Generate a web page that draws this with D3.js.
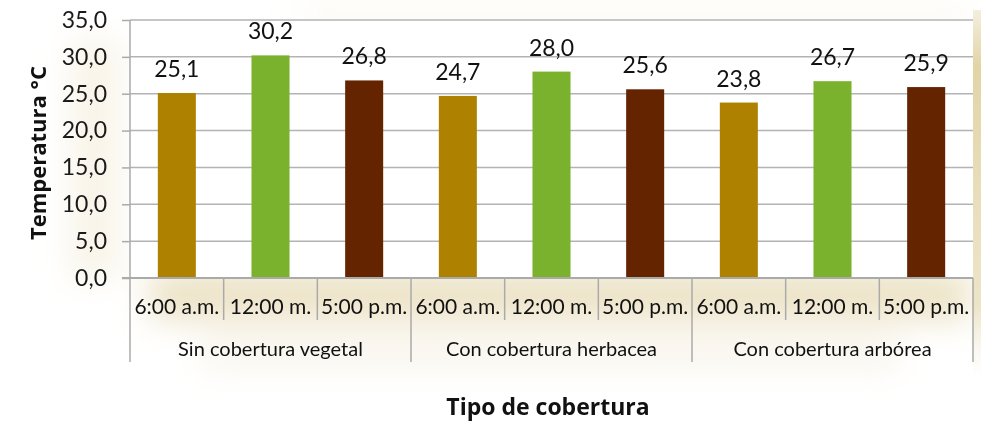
<!DOCTYPE html>
<html>
<head>
<meta charset="utf-8">
<script src="https://cdn.jsdelivr.net/npm/d3@7"></script>
<style>
  body { margin: 0; background: #fff; }
  svg { display: block; font-family: Lato, "Open Sans", sans-serif; }
</style>
</head>
<body>
<svg id="chart" width="981" height="423"></svg>
<script>
// data
var groups = ["Sin cobertura vegetal", "Con cobertura herbacea", "Con cobertura arbórea"];
var times = ["6:00 a.m.", "12:00 m.", "5:00 p.m."];
var values = [25.1, 30.2, 26.8, 24.7, 28.0, 25.6, 23.8, 26.7, 25.9];
var yTicks = [0, 5, 10, 15, 20, 25, 30, 35];
var colors = ["#ae8200", "#7ab22d", "#642400"];

var svg = d3.select("#chart");
var plotL = 130, plotR = 973, plotT = 20, plotB = 278;

// build rows
var rows = [];
groups.forEach(function(g, gi) {
  times.forEach(function(t, ti) {
    rows.push({ key: gi + "-" + ti, group: g, time: t, ti: ti, value: values[gi * 3 + ti] });
  });
});

var x = d3.scaleBand().domain(rows.map(function(d){ return d.key; }))
  .range([plotL, plotR]).paddingInner(0.594).paddingOuter(0.297);
var step = x.step();
var y = d3.scaleLinear().domain([0, 35]).range([plotB, plotT]);

// soft beige glow behind the chart
var defs = svg.append("defs");
defs.append("filter").attr("id", "glow").attr("x", "-20%").attr("y", "-20%").attr("width", "140%").attr("height", "140%")
  .append("feGaussianBlur").attr("stdDeviation", 16);
var lg = defs.append("linearGradient").attr("id", "rstrip").attr("x1", 0).attr("y1", 0).attr("x2", 0).attr("y2", 1);
lg.append("stop").attr("offset", "0%").attr("stop-color", "#e4d7ac").attr("stop-opacity", 0.4);
lg.append("stop").attr("offset", "15%").attr("stop-color", "#e2d4a6").attr("stop-opacity", 1);
lg.append("stop").attr("offset", "80%").attr("stop-color", "#e9dfbd").attr("stop-opacity", 0.8);
lg.append("stop").attr("offset", "100%").attr("stop-color", "#f5f0e0").attr("stop-opacity", 0);

var glow = svg.append("g").attr("filter", "url(#glow)");
glow.append("rect").attr("x", 150).attr("y", 270).attr("width", 820).attr("height", 50)
  .attr("fill", "#e6dab4").attr("opacity", 0.75);
glow.append("rect").attr("x", 70).attr("y", 40).attr("width", 50).attr("height", 240)
  .attr("fill", "#f3edd9").attr("opacity", 0.6);
glow.append("rect").attr("x", 200).attr("y", 330).attr("width", 700).attr("height", 40)
  .attr("fill", "#f5f0e2").attr("opacity", 0.6);
glow.append("rect").attr("x", 300).attr("y", 6).attr("width", 670).attr("height", 20)
  .attr("fill", "#f7f3e8").attr("opacity", 0.5);
svg.append("rect").attr("x", plotR).attr("y", plotT - 10).attr("width", 981 - plotR).attr("height", 370)
  .attr("fill", "url(#rstrip)");

// white plot area
svg.append("rect").attr("x", plotL).attr("y", plotT - 1).attr("width", plotR - plotL).attr("height", plotB - plotT + 1)
  .attr("fill", "#fff");

// gridlines
svg.append("g").selectAll("line").data(yTicks.filter(function(d){ return d > 0; })).join("line")
  .attr("x1", plotL).attr("x2", plotR)
  .attr("y1", function(d){ return y(d); }).attr("y2", function(d){ return y(d); })
  .attr("stroke", "#b3b3b3").attr("stroke-width", 1.5);

// y axis
var yAxis = svg.append("g").attr("transform", "translate(" + plotL + ",0)")
  .call(d3.axisLeft(y).tickValues(yTicks).tickSize(8).tickPadding(15)
    .tickFormat(function(d){ return d3.format(".1f")(d).replace(".", ","); }));
yAxis.select(".domain").attr("stroke", "#aaaaaa").attr("stroke-width", 1.5).attr("d", "M0," + plotT + "V" + plotB);
yAxis.selectAll(".tick line").attr("stroke", "#aaaaaa").attr("stroke-width", 1.5);
yAxis.selectAll(".tick text").attr("font-size", 23).attr("fill", "#1a1a1a").attr("font-family", "Lato, sans-serif");

// bars
svg.append("g").selectAll("rect").data(rows).join("rect")
  .attr("x", function(d){ return x(d.key); })
  .attr("width", x.bandwidth())
  .attr("y", function(d){ return y(d.value); })
  .attr("height", function(d){ return y(0) - y(d.value); })
  .attr("fill", function(d){ return colors[d.ti]; });

// value labels
svg.append("g").selectAll("text").data(rows).join("text")
  .attr("x", function(d){ return x(d.key) + x.bandwidth() / 2; })
  .attr("y", function(d){ return y(d.value) - 16; })
  .attr("text-anchor", "middle").attr("font-size", 23).attr("fill", "#111")
  .text(function(d){ return d3.format(".1f")(d.value).replace(".", ","); });

// x axis baseline
svg.append("line").attr("x1", plotL - 8).attr("x2", plotR).attr("y1", plotB).attr("y2", plotB)
  .attr("stroke", "#aaaaaa").attr("stroke-width", 2);

// category separators
var seps = d3.range(rows.length + 1);
svg.append("g").selectAll("line").data(seps).join("line")
  .attr("x1", function(i){ return plotL + i * step; })
  .attr("x2", function(i){ return plotL + i * step; })
  .attr("y1", plotB)
  .attr("y2", function(i){ return i % 3 === 0 ? 362 : 320; })
  .attr("stroke", "#aaaaaa").attr("stroke-width", 1.5);

// time labels
svg.append("g").selectAll("text").data(rows).join("text")
  .attr("x", function(d){ return x(d.key) + x.bandwidth() / 2; })
  .attr("y", 314)
  .attr("text-anchor", "middle").attr("font-size", 21).attr("fill", "#111")
  .text(function(d){ return d.time; });

// group labels
svg.append("g").selectAll("text").data(groups).join("text")
  .attr("x", function(d, i){ return plotL + (i * 3 + 1.5) * step; })
  .attr("y", 356)
  .attr("text-anchor", "middle").attr("font-size", 20).attr("fill", "#111")
  .text(function(d){ return d; });

// axis titles
svg.append("text").attr("x", 548).attr("y", 415).attr("text-anchor", "middle")
  .attr("font-size", 23).attr("font-weight", "bold").attr("fill", "#111")
  .attr("font-family", "'Open Sans', sans-serif")
  .text("Tipo de cobertura");
svg.append("text").attr("transform", "translate(46,153) rotate(-90)").attr("text-anchor", "middle")
  .attr("font-size", 22).attr("font-weight", "bold").attr("fill", "#111")
  .attr("font-family", "'Open Sans', sans-serif")
  .text("Temperatura °C");
</script>
</body>
</html>
